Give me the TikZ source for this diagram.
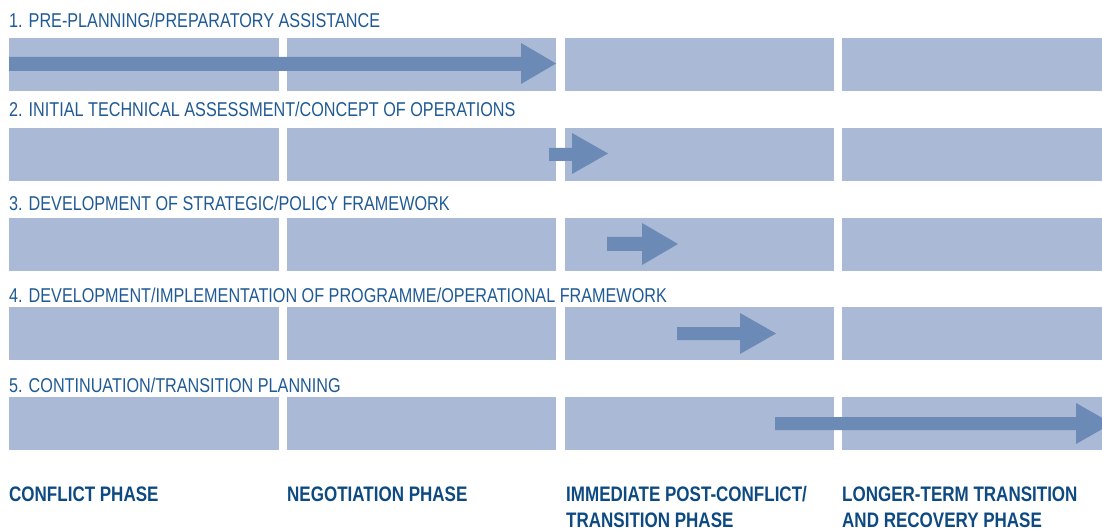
\documentclass[tikz,border=0pt]{standalone}
\usepackage{fontspec}
\setmainfont{Liberation Sans}[FakeStretch=0.81]
\definecolor{cellblue}{RGB}{170,185,213}
\definecolor{arrowblue}{RGB}{107,138,182}
\definecolor{titleblue}{RGB}{32,90,148}
\definecolor{phaseblue}{RGB}{14,74,130}
\tikzset{
  cell/.style={fill=cellblue},
  bigarrow/.style={fill=arrowblue},
  rowtitle/.style={anchor=base west, inner sep=0pt, text=titleblue, font=\fontsize{20}{24}\selectfont},
  phaselabel/.style={anchor=base west, inner sep=0pt, text=phaseblue, align=left, font=\fontsize{21}{26}\selectfont\bfseries}
}
\begin{document}
\begin{tikzpicture}[x=1pt,y=-1pt]
\useasboundingbox (0,0) rectangle (1102,529);
\clip (0,0) rectangle (1102,529);
% cells
\foreach \t in {38,128,218,307,397}{
  \fill[cell] (9,\t) rectangle (279,\t+53);
  \fill[cell] (287,\t) rectangle (556,\t+53);
  \fill[cell] (565,\t) rectangle (834,\t+53);
  \fill[cell] (842,\t) rectangle (1102,\t+53);
}
% titles
\node[rowtitle] (t1) at (9,28) {1. PRE-PLANNING/PREPARATORY ASSISTANCE};
\node[rowtitle] (t2) at (9,117) {2. INITIAL TECHNICAL ASSESSMENT/CONCEPT OF OPERATIONS};
\node[rowtitle] (t3) at (9,211) {3. DEVELOPMENT OF STRATEGIC/POLICY FRAMEWORK};
\node[rowtitle] (t4) at (9,302) {4. DEVELOPMENT/IMPLEMENTATION OF PROGRAMME/OPERATIONAL FRAMEWORK};
\node[rowtitle] (t5) at (9,392) {5. CONTINUATION/TRANSITION PLANNING};
% arrows
\fill[bigarrow] (9,57) -- (521,57) -- (521,43) -- (556,63.5) -- (521,84) -- (521,71) -- (9,71) -- cycle;
\fill[bigarrow] (549,148) -- (572,148) -- (572,133) -- (608,153.5) -- (572,174) -- (572,161) -- (549,161) -- cycle;
\fill[bigarrow] (607,237) -- (642,237) -- (642,223) -- (678,244) -- (642,265) -- (642,251) -- (607,251) -- cycle;
\fill[bigarrow] (677,327) -- (740,327) -- (740,313) -- (776,333.5) -- (740,354) -- (740,340) -- (677,340) -- cycle;
\fill[bigarrow] (775,417) -- (1076,417) -- (1076,403) -- (1112,423.5) -- (1076,444) -- (1076,430) -- (775,430) -- cycle;
% phase labels
\node[phaselabel] (p1) at (9,501) {CONFLICT PHASE};
\node[phaselabel] (p2) at (287,501) {NEGOTIATION PHASE};
\node[phaselabel] (p3) at (566,527) {IMMEDIATE POST-CONFLICT/\\TRANSITION PHASE};
\node[phaselabel] (p4) at (842,527) {LONGER-TERM TRANSITION\\AND RECOVERY PHASE};
\end{tikzpicture}
\end{document}
